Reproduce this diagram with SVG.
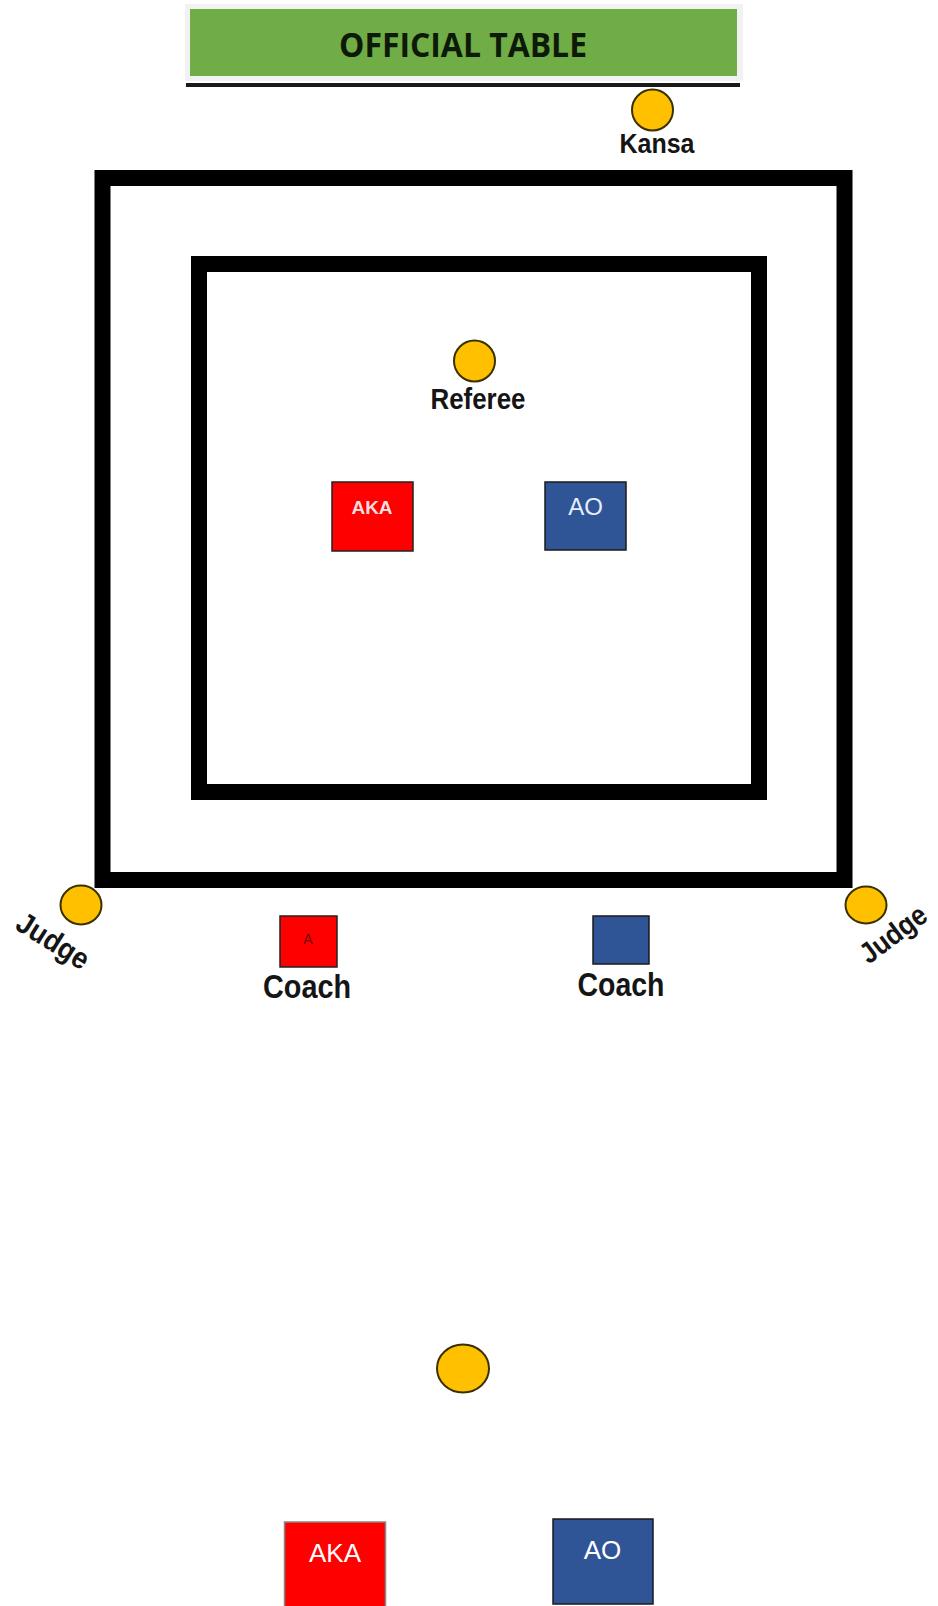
<svg xmlns="http://www.w3.org/2000/svg" width="938" height="1606" viewBox="0 0 938 1606">
  <style>
    .person { fill: #FFC000; stroke: #3a3000; stroke-width: 2; }
    .label { font-family: "Liberation Sans", Arial, sans-serif; font-weight: bold; fill: #151515; text-anchor: middle; }
    .mat { fill: none; stroke: #000; stroke-width: 16; }
    .red { fill: #FF0000; stroke: #222; stroke-width: 1.5; }
    .blue { fill: #2F5597; stroke: #1a1a1a; stroke-width: 1.5; }
    .box-text { font-family: "Liberation Sans", Arial, sans-serif; text-anchor: middle; }
  </style>
  <rect width="938" height="1606" fill="#fff"/>

  <g id="official-table">
    <rect x="185" y="4" width="558" height="77" fill="#f2f2f2"/>
    <rect x="190" y="9" width="547" height="67" fill="#70AD47"/>
    <rect x="186" y="83" width="554" height="4" fill="#1a1a1a"/>
    <text x="463" y="57" font-family="'Open Sans', 'Liberation Sans', sans-serif" font-weight="bold" font-size="34" fill="#0d1a08" text-anchor="middle" textLength="248" lengthAdjust="spacingAndGlyphs">OFFICIAL TABLE</text>
  </g>

  <g id="mats">
    <rect class="mat" x="102.5" y="178" width="742" height="702"/>
    <rect class="mat" x="199" y="264" width="560" height="528"/>
  </g>

  <g id="kansa">
    <circle class="person" cx="652.5" cy="110" r="20.5"/>
    <text class="label" x="657" y="153" font-size="27" textLength="75" lengthAdjust="spacingAndGlyphs">Kansa</text>
  </g>

  <g id="referee">
    <circle class="person" cx="474.5" cy="361" r="20.5"/>
    <text class="label" x="478" y="409" font-size="29" textLength="95" lengthAdjust="spacingAndGlyphs">Referee</text>
  </g>

  <g id="aka-top">
    <rect class="red" x="332" y="482" width="81" height="69"/>
    <text class="box-text" x="372" y="514" font-size="19" font-weight="bold" fill="#f6dede">AKA</text>
  </g>

  <g id="ao-top">
    <rect class="blue" x="545" y="482" width="81" height="68"/>
    <text class="box-text" x="585.5" y="515" font-size="24" fill="#e6eefc">AO</text>
  </g>

  <g id="judge-left">
    <ellipse class="person" cx="81" cy="905" rx="20.5" ry="19.5"/>
    <text class="label" transform="translate(53 941) rotate(32)" x="0" y="10" font-size="30" textLength="80" lengthAdjust="spacingAndGlyphs">Judge</text>
  </g>

  <g id="judge-right">
    <ellipse class="person" cx="866" cy="905" rx="20.5" ry="18.5"/>
    <text class="label" transform="translate(893 934) rotate(-37)" x="0" y="10" font-size="29" textLength="76" lengthAdjust="spacingAndGlyphs">Judge</text>
  </g>

  <g id="coach-aka">
    <rect class="red" x="280" y="916" width="57" height="51"/>
    <text class="box-text" x="308" y="944" font-size="14" fill="#6a0000">A</text>
    <text class="label" x="307" y="998" font-size="34" textLength="88" lengthAdjust="spacingAndGlyphs">Coach</text>
  </g>

  <g id="coach-ao">
    <rect class="blue" x="593" y="916" width="56" height="48"/>
    <text class="label" x="621" y="996" font-size="34" textLength="87" lengthAdjust="spacingAndGlyphs">Coach</text>
  </g>

  <g id="official-bottom">
    <ellipse class="person" cx="463" cy="1368.5" rx="26" ry="24"/>
  </g>

  <g id="aka-bottom">
    <rect x="284.5" y="1522" width="101" height="90" fill="#FF0000" stroke="#888" stroke-width="1.5"/>
    <text class="box-text" x="335" y="1562" font-size="26" fill="#ffffff">AKA</text>
  </g>

  <g id="ao-bottom">
    <rect class="blue" x="553" y="1519" width="100" height="85"/>
    <text class="box-text" x="602.5" y="1559" font-size="26" fill="#ffffff">AO</text>
  </g>

  <g id="connectors"></g>
</svg>
